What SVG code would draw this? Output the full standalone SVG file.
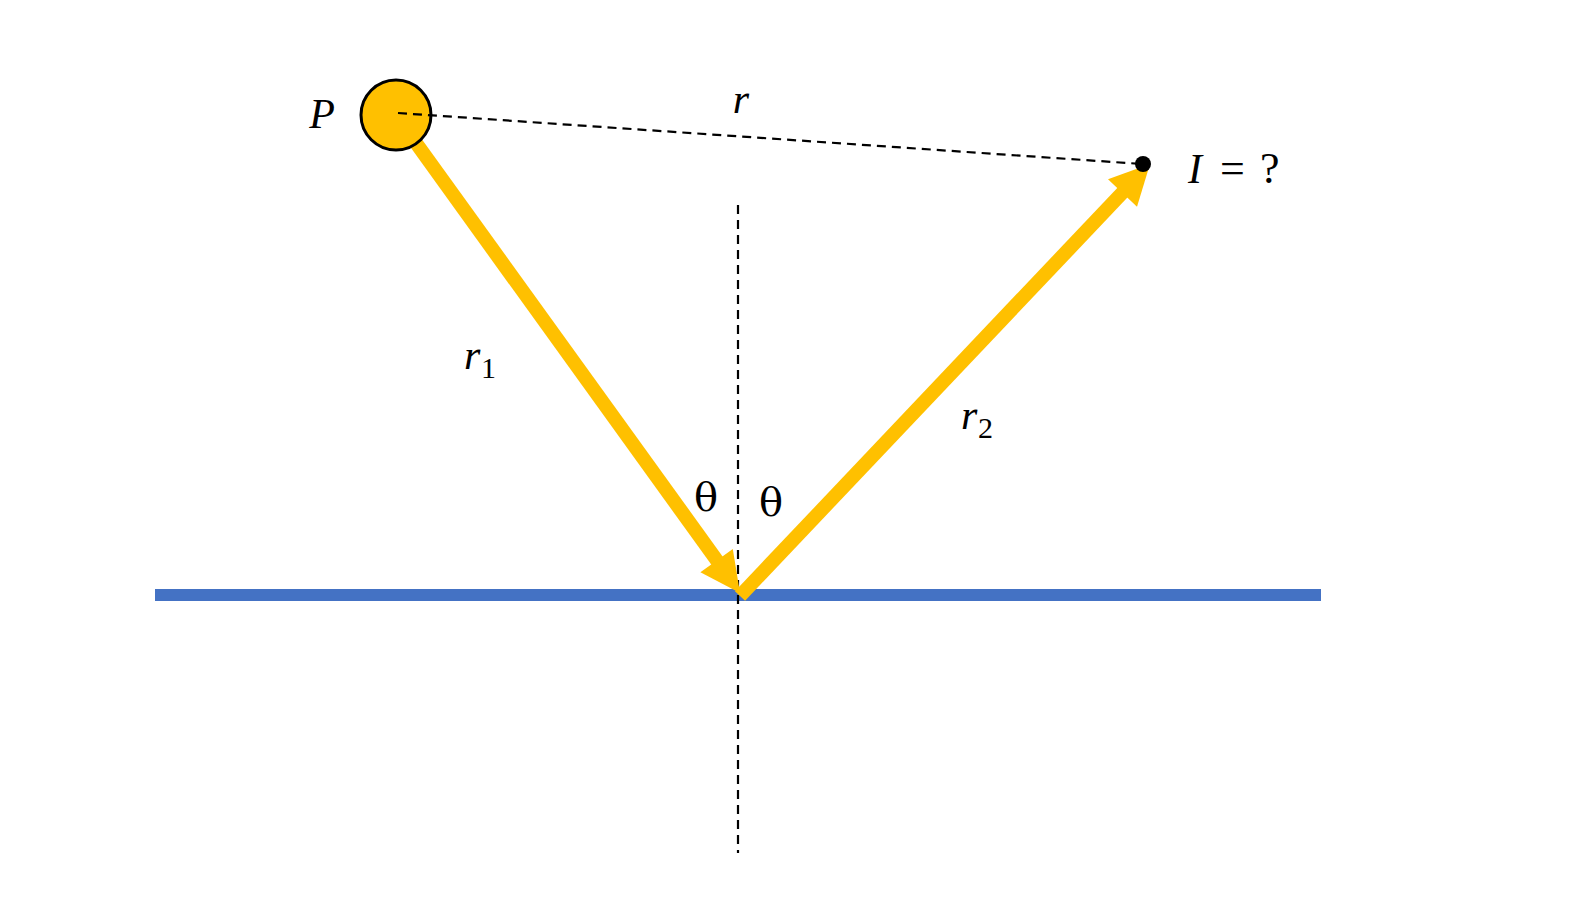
<svg xmlns="http://www.w3.org/2000/svg" width="1576" height="906" viewBox="0 0 1576 906">
<style>
.ray{stroke:#FFC000;stroke-width:14;fill:none}
.head{fill:#FFC000}
.dash{stroke:#000;stroke-width:2.2;stroke-dasharray:9 6;fill:none}
.lbl{font-family:"Liberation Serif","DejaVu Serif",serif;font-style:italic;font-size:42px;fill:#000}
.sym{font-family:"Liberation Serif","DejaVu Serif",serif;font-size:44px;fill:#000}
.sub{font-family:"Liberation Serif","DejaVu Serif",serif;font-size:30px;fill:#000}
.theta{font-family:"DejaVu Serif","Liberation Serif",serif;font-size:40px;fill:#000}
</style>
<rect width="1576" height="906" fill="#fff"/>
<g id="surface">
<line x1="155" y1="595" x2="1321" y2="595" stroke="#4472C4" stroke-width="12"/>
</g>
<g id="connectors">
<line class="dash" x1="738" y1="205" x2="738" y2="853"/>
<line class="dash" x1="398" y1="113" x2="1142" y2="164"/>
<line class="ray" x1="416" y1="143" x2="718" y2="562"/>
<polygon class="head" points="740,593 732.8,548.9 700.4,572.3"/>
<line class="ray" x1="740" y1="596" x2="1124" y2="191"/>
<polygon class="head" points="1150,164 1137,206.8 1108,179.2"/>
</g>
<g id="P">
<circle cx="396" cy="115" r="35" fill="#FFC000" stroke="#000" stroke-width="3"/>
<line class="dash" x1="398" y1="113" x2="431" y2="115.3"/>
<text class="lbl" x="322" y="128" text-anchor="middle">P</text>
</g>
<g id="I">
<circle cx="1143" cy="164" r="8" fill="#000"/>
<text class="lbl" x="1188" y="183">I</text>
<text class="sym" x="1220" y="183">=</text>
<text class="sym" x="1260" y="183">?</text>
</g>
<g id="labels">
<text class="lbl" x="741" y="113" text-anchor="middle">r</text>
<text class="lbl" x="464" y="369">r</text>
<text class="sub" x="481" y="378">1</text>
<text class="lbl" x="961" y="429">r</text>
<text class="sub" x="978" y="438">2</text>
<text class="theta" x="706" y="511" text-anchor="middle">θ</text>
<text class="theta" x="771" y="516" text-anchor="middle">θ</text>
</g>
</svg>
